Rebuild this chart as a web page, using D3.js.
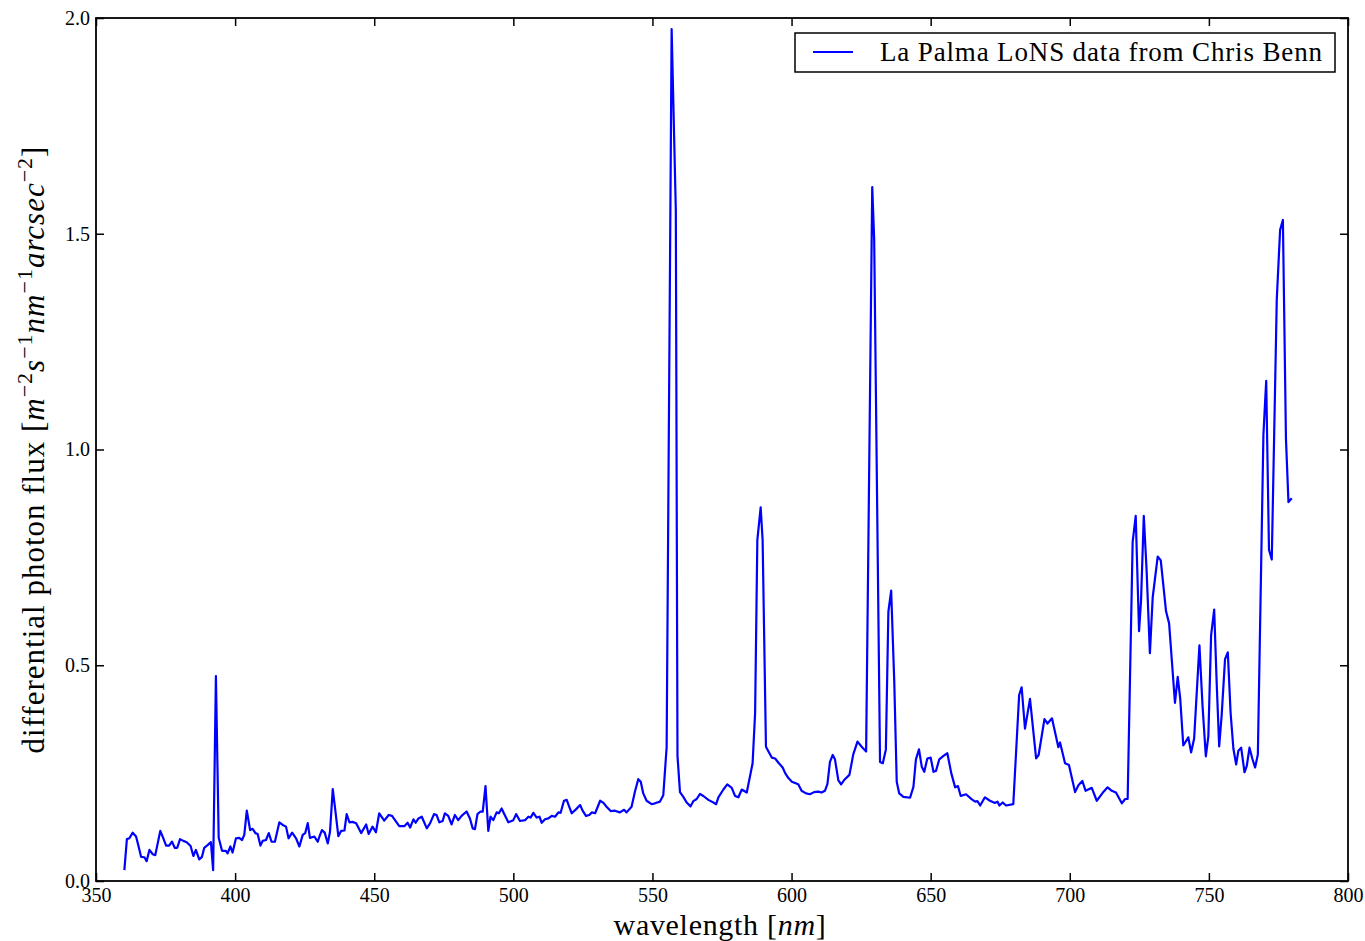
<!DOCTYPE html>
<html lang="en">
	<head>
		<meta charset="utf-8">
		<title>D3: La Palma night sky spectrum</title>
		<script type="text/javascript" src="https://cdn.jsdelivr.net/npm/d3@7"></script>
		<style type="text/css">

		body {
			margin: 0;
			background: #ffffff;
		}

		text {
			font-family: "Liberation Serif", "DejaVu Serif", serif;
			fill: #000000;
		}

		.axis path {
			display: none;
		}

		.axis line {
			stroke: #000000;
			stroke-width: 1.5;
		}

		.axis text {
			font-size: 20px;
		}

		</style>
	</head>
	<body>

		<script type="text/javascript">

		//Spectrum, wavelength in nm
		var wavelength = [
			360.2, 361.1, 362.0, 363.2, 364.4, 365.2, 366.2, 367.4, 368.2, 369.2,
			370.4, 371.3, 373.1, 373.9, 375.2, 376.3, 377.3, 378.3, 379.2, 380.2,
			381.4, 382.6, 384.0, 385.0, 385.9, 387.1, 388.1, 388.9, 390.1, 391.3,
			392.1, 393.1, 394.1, 395.3, 396.7, 397.3, 398.3, 399.1, 400.3, 401.5,
			402.5, 403.3, 404.2, 405.4, 406.3, 407.3, 408.1, 409.1, 409.9, 411.1,
			412.1, 413.1, 414.3, 415.9, 417.1, 418.3, 419.2, 420.5, 421.9, 423.1,
			424.3, 425.2, 426.1, 426.9, 428.5, 429.7, 430.3, 431.2, 432.2, 433.3,
			434.1, 435.1, 436.0, 437.1, 438.1, 439.3, 440.1, 441.1, 442.2, 443.5,
			445.3, 447.1, 448.0, 449.4, 450.6, 451.8, 453.6, 455.2, 456.4, 459.0,
			460.8, 462.0, 462.9, 464.1, 464.9, 465.9, 467.1, 468.9, 470.1, 471.5,
			472.4, 473.4, 474.6, 475.4, 476.6, 477.8, 479.0, 480.2, 481.4, 483.2,
			484.4, 485.4, 486.2, 487.1, 488.2, 489.0, 490.0, 491.0, 491.8, 492.8,
			494.0, 494.8, 495.8, 496.6, 498.2, 500.0, 501.0, 502.4, 504.2, 505.4,
			506.2, 507.2, 508.4, 509.4, 510.2, 511.4, 512.6, 513.8, 515.0, 516.2,
			517.0, 518.2, 519.2, 520.1, 521.0, 522.5, 524.0, 524.9, 526.1, 527.3,
			528.2, 529.4, 531.2, 532.4, 533.5, 535.0, 536.5, 538.3, 539.8, 540.7,
			542.5, 543.7, 544.9, 545.8, 546.7, 547.9, 549.7, 550.9, 552.7, 553.9,
			555.1, 556.9, 558.4, 559.0, 559.9, 561.1, 562.3, 563.7, 564.7, 565.9,
			567.1, 568.3, 570.1, 571.9, 572.9, 573.7, 575.5, 576.9, 578.5, 579.7,
			580.9, 582.1, 583.9, 586.0, 586.9, 587.7, 588.9, 589.6, 590.8, 591.7,
			592.9, 594.1, 595.3, 596.8, 597.7, 598.8, 600.1, 602.4, 603.6, 605.2,
			606.6, 608.1, 609.6, 610.8, 612.0, 612.9, 613.8, 614.8, 615.6, 616.8,
			617.8, 618.9, 620.8, 622.2, 623.7, 625.2, 626.8, 629.0, 629.7, 631.8,
			632.8, 633.9, 634.8, 635.8, 636.9, 637.8, 638.7, 640.2, 642.6, 643.8,
			644.7, 645.8, 646.8, 647.7, 648.8, 650.0, 651.0, 651.9, 653.1, 654.6,
			656.0, 657.4, 658.8, 659.8, 660.8, 662.7, 664.8, 666.0, 666.8, 667.8,
			669.5, 671.3, 673.1, 674.0, 674.7, 675.9, 677.1, 679.7, 681.8, 682.7,
			683.9, 685.7, 687.9, 688.8, 690.9, 692.0, 693.6, 695.9, 696.5, 698.3,
			699.7, 701.9, 703.1, 704.5, 705.7, 707.9, 709.7, 711.9, 713.6, 715.1,
			716.6, 718.7, 719.9, 720.8, 722.6, 723.7, 724.9, 725.6, 726.6, 727.6,
			728.8, 729.8, 731.6, 732.7, 734.6, 735.7, 737.8, 738.8, 739.7, 740.8,
			742.6, 743.6, 744.7, 746.6, 747.7, 748.9, 749.8, 750.8, 751.9, 752.8,
			753.7, 754.6, 755.8, 756.8, 757.8, 758.8, 759.8, 760.6, 761.6, 762.8,
			763.6, 764.6, 765.6, 766.6, 767.6, 769.6, 770.6, 771.6, 772.6, 774.4,
			775.6, 776.6, 777.7, 778.6, 779.8
		];

		//Differential photon flux, same order as wavelength
		var flux = [
			0.025, 0.097, 0.099, 0.112, 0.103, 0.083, 0.056, 0.055, 0.046, 0.072,
			0.062, 0.060, 0.116, 0.104, 0.082, 0.082, 0.091, 0.077, 0.077, 0.097,
			0.093, 0.090, 0.081, 0.058, 0.072, 0.050, 0.056, 0.077, 0.083, 0.090,
			0.025, 0.475, 0.100, 0.070, 0.070, 0.064, 0.080, 0.066, 0.099, 0.100,
			0.095, 0.107, 0.163, 0.118, 0.121, 0.111, 0.109, 0.082, 0.093, 0.095,
			0.111, 0.091, 0.091, 0.136, 0.130, 0.126, 0.099, 0.112, 0.099, 0.080,
			0.107, 0.111, 0.134, 0.100, 0.103, 0.091, 0.103, 0.118, 0.112, 0.087,
			0.114, 0.213, 0.165, 0.104, 0.116, 0.117, 0.155, 0.136, 0.137, 0.134,
			0.111, 0.131, 0.109, 0.126, 0.113, 0.157, 0.140, 0.153, 0.151, 0.127,
			0.127, 0.135, 0.124, 0.143, 0.135, 0.145, 0.149, 0.122, 0.134, 0.155,
			0.153, 0.136, 0.139, 0.157, 0.151, 0.131, 0.153, 0.141, 0.151, 0.161,
			0.145, 0.122, 0.120, 0.155, 0.161, 0.161, 0.220, 0.116, 0.149, 0.141,
			0.159, 0.157, 0.168, 0.157, 0.136, 0.141, 0.155, 0.139, 0.141, 0.149,
			0.147, 0.158, 0.147, 0.149, 0.135, 0.143, 0.145, 0.151, 0.149, 0.159,
			0.158, 0.186, 0.188, 0.172, 0.157, 0.166, 0.176, 0.163, 0.151, 0.153,
			0.159, 0.157, 0.186, 0.181, 0.172, 0.162, 0.163, 0.159, 0.165, 0.159,
			0.172, 0.207, 0.236, 0.230, 0.203, 0.186, 0.178, 0.180, 0.184, 0.199,
			0.310, 1.974, 1.555, 0.290, 0.206, 0.195, 0.182, 0.173, 0.185, 0.190,
			0.202, 0.197, 0.188, 0.182, 0.178, 0.194, 0.212, 0.224, 0.216, 0.197,
			0.194, 0.212, 0.205, 0.273, 0.389, 0.790, 0.866, 0.790, 0.311, 0.300,
			0.286, 0.284, 0.274, 0.263, 0.250, 0.239, 0.230, 0.224, 0.209, 0.203,
			0.201, 0.206, 0.207, 0.205, 0.209, 0.225, 0.276, 0.292, 0.282, 0.234,
			0.224, 0.234, 0.246, 0.294, 0.323, 0.311, 0.300, 1.608, 1.486, 0.276,
			0.273, 0.305, 0.624, 0.673, 0.466, 0.230, 0.203, 0.195, 0.193, 0.218,
			0.282, 0.305, 0.265, 0.253, 0.284, 0.286, 0.253, 0.255, 0.282, 0.290,
			0.296, 0.250, 0.217, 0.220, 0.197, 0.201, 0.189, 0.184, 0.185, 0.175,
			0.194, 0.186, 0.181, 0.184, 0.175, 0.182, 0.175, 0.178, 0.431, 0.449,
			0.353, 0.422, 0.284, 0.292, 0.375, 0.365, 0.377, 0.310, 0.321, 0.273,
			0.269, 0.206, 0.222, 0.232, 0.209, 0.216, 0.186, 0.205, 0.217, 0.209,
			0.205, 0.180, 0.190, 0.190, 0.786, 0.846, 0.579, 0.648, 0.846, 0.722,
			0.528, 0.657, 0.752, 0.743, 0.625, 0.597, 0.413, 0.473, 0.422, 0.314,
			0.333, 0.298, 0.330, 0.546, 0.408, 0.289, 0.335, 0.570, 0.629, 0.459,
			0.312, 0.385, 0.514, 0.530, 0.390, 0.307, 0.270, 0.302, 0.309, 0.252,
			0.266, 0.309, 0.284, 0.263, 0.293, 1.035, 1.159, 0.768, 0.745, 1.348,
			1.509, 1.532, 1.025, 0.878, 0.887
		];

		//Tick values
		var xTicks = [350, 400, 450, 500, 550, 600, 650, 700, 750, 800];
		var yTicks = [0.0, 0.5, 1.0, 1.5, 2.0];

		var seriesName = "La Palma LoNS data from Chris Benn";

		//Width and height
		var w = 1365;
		var h = 941;
		var margin = {top: 18, right: 17, bottom: 60, left: 96};
		var tickLen = 8;

		var dataset = wavelength.map(function(d, i) {
			return {wl: d, f: flux[i]};
		});

		//Create scale functions
		var xScale = d3.scaleLinear()
						.domain([350, 800])
						.range([margin.left, w - margin.right]);

		var yScale = d3.scaleLinear()
						.domain([0, 2])
						.range([h - margin.bottom, margin.top]);

		//Create SVG element
		var svg = d3.select("body")
					.append("svg")
					.attr("width", w)
					.attr("height", h);

		//Define line generator
		var line = d3.line()
					.x(function(d) { return xScale(d.wl); })
					.y(function(d) { return yScale(d.f); });

		svg.append("path")
			.datum(dataset)
			.attr("d", line)
			.attr("fill", "none")
			.attr("stroke", "#0000ff")
			.attr("stroke-width", 2.2)
			.attr("stroke-linejoin", "round");

		//Axes, ticks pointing inward on all four sides
		var xAxis = d3.axisBottom(xScale)
					.tickValues(xTicks)
					.tickFormat(d3.format("d"))
					.tickSizeInner(-tickLen)
					.tickSizeOuter(0)
					.tickPadding(5);

		var yAxis = d3.axisLeft(yScale)
					.tickValues(yTicks)
					.tickFormat(d3.format(".1f"))
					.tickSizeInner(-tickLen)
					.tickSizeOuter(0)
					.tickPadding(6);

		var xAxisTop = d3.axisTop(xScale)
					.tickValues(xTicks)
					.tickFormat("")
					.tickSizeInner(-tickLen)
					.tickSizeOuter(0);

		var yAxisRight = d3.axisRight(yScale)
					.tickValues(yTicks)
					.tickFormat("")
					.tickSizeInner(-tickLen)
					.tickSizeOuter(0);

		svg.append("g")
			.attr("class", "axis")
			.attr("transform", "translate(0," + (h - margin.bottom) + ")")
			.call(xAxis)
			.selectAll("text")
			.attr("dy", "0.82em");

		svg.append("g")
			.attr("class", "axis")
			.attr("transform", "translate(" + margin.left + ",0)")
			.call(yAxis);

		svg.append("g")
			.attr("class", "axis")
			.attr("transform", "translate(0," + margin.top + ")")
			.call(xAxisTop);

		svg.append("g")
			.attr("class", "axis")
			.attr("transform", "translate(" + (w - margin.right) + ",0)")
			.call(yAxisRight);

		//Frame
		svg.append("rect")
			.attr("x", margin.left)
			.attr("y", margin.top)
			.attr("width", w - margin.left - margin.right)
			.attr("height", h - margin.top - margin.bottom)
			.attr("fill", "none")
			.attr("stroke", "#000000")
			.attr("stroke-width", 1.8);

		//X label
		var xLabel = svg.append("text")
			.attr("x", (margin.left + w - margin.right) / 2 - 2)
			.attr("y", 935)
			.attr("text-anchor", "middle")
			.style("font-size", "30px")
			.style("letter-spacing", "0.7px");
		xLabel.append("tspan").text("wavelength [");
		xLabel.append("tspan").style("font-style", "italic").text("nm");
		xLabel.append("tspan").text("]");

		//Y label with superscripts
		var yLabel = svg.append("text")
			.attr("transform", "translate(44," + ((margin.top + h - margin.bottom) / 2) + ") rotate(-90)")
			.attr("text-anchor", "middle")
			.style("font-size", "31px")
			.style("letter-spacing", "1px");

		var labelParts = [
			{t: "differential photon flux [", it: false, sup: false},
			{t: "m", it: true, sup: false},
			{t: "\u22122", it: false, sup: true},
			{t: "s", it: true, sup: false},
			{t: "\u22121", it: false, sup: true},
			{t: "nm", it: true, sup: false},
			{t: "\u22121", it: false, sup: true},
			{t: "arcsec", it: true, sup: false},
			{t: "\u22122", it: false, sup: true},
			{t: "]", it: false, sup: false}
		];

		var prevSup = false;
		labelParts.forEach(function(p) {
			var ts = yLabel.append("tspan").text(p.t);
			if (p.it) ts.style("font-style", "italic");
			if (p.sup) {
				ts.style("font-size", "22px").attr("dy", "-12");
			} else if (prevSup) {
				ts.attr("dy", "12");
			}
			prevSup = p.sup;
		});

		//Legend
		var legend = svg.append("g");

		legend.append("rect")
			.attr("x", 795)
			.attr("y", 33)
			.attr("width", 540)
			.attr("height", 39)
			.attr("fill", "#ffffff")
			.attr("stroke", "#000000")
			.attr("stroke-width", 1.5);

		legend.append("line")
			.attr("x1", 813)
			.attr("x2", 853)
			.attr("y1", 52)
			.attr("y2", 52)
			.attr("stroke", "#0000ff")
			.attr("stroke-width", 2);

		legend.append("text")
			.attr("x", 880)
			.attr("y", 61)
			.style("font-size", "27px")
			.style("letter-spacing", "0.85px")
			.text(seriesName);

		</script>
	</body>
</html>
